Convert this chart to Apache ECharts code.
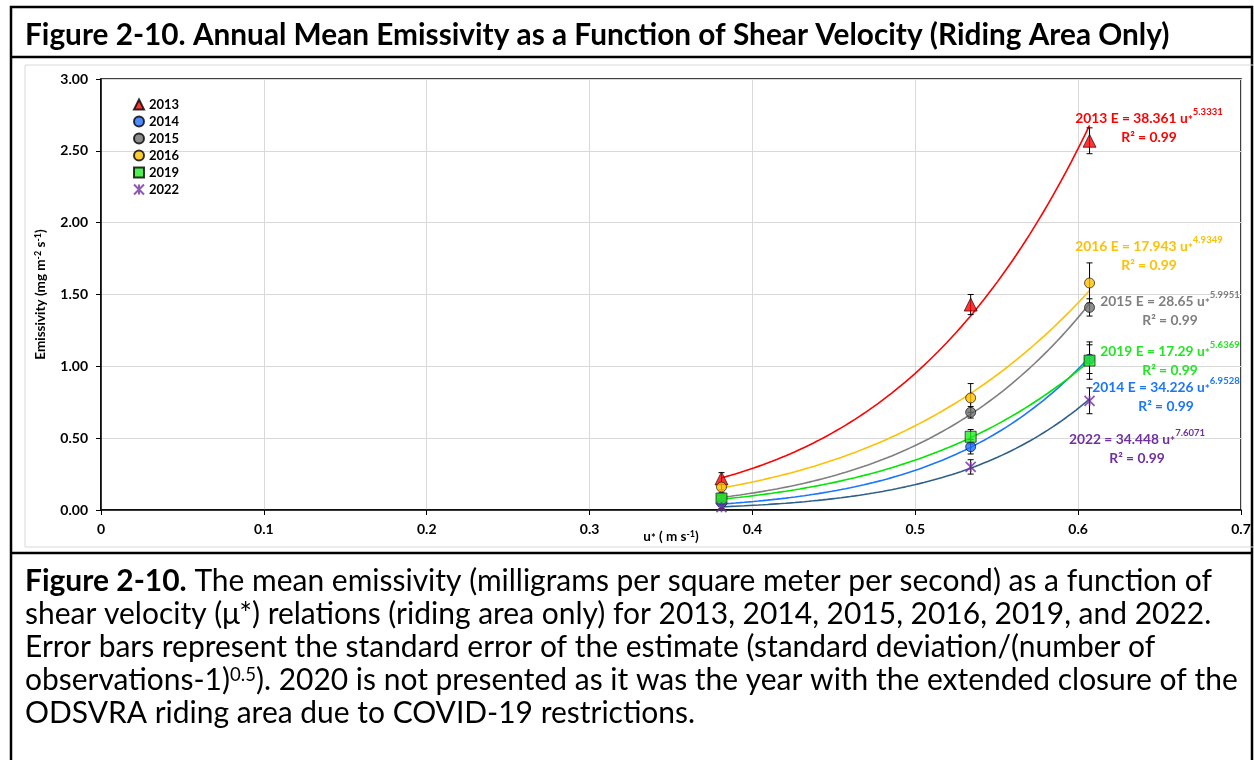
<!DOCTYPE html>
<html><head><meta charset="utf-8">
<script src="https://cdn.jsdelivr.net/npm/echarts@6/dist/echarts.min.js"></script>
<style>html,body{margin:0;padding:0;background:#fff}#c{width:1254px;height:760px}</style>
</head><body><div id="c"></div>
<script>
const FONT = 'Lato';
// ---- data ----
const xValues = [0.381, 0.534, 0.607];
const years = ['2013', '2014', '2015', '2016', '2019', '2022'];
const emis2013 = [0.22, 1.43, 2.57];
const emis2014 = [0.05, 0.44, 1.05];
const emis2015 = [0.09, 0.68, 1.41];
const emis2016 = [0.16, 0.78, 1.58];
const emis2019 = [0.08, 0.51, 1.04];
const emis2022 = [0.02, 0.30, 0.76];
const err2013 = [0.04, 0.07, 0.09];
const err2014 = [0.01, 0.05, 0.10];
const err2015 = [0.02, 0.04, 0.06];
const err2016 = [0.02, 0.10, 0.14];
const err2019 = [0.02, 0.05, 0.13];
const err2022 = [0.01, 0.05, 0.09];
// power-law fit coefficients shown on the chart: E = a * u^b
const fitA = [38.361, 34.226, 28.65, 17.943, 17.29, 34.448];
const fitB = [5.3331, 6.9528, 5.9951, 4.9349, 5.6369, 7.6071];
const fitR2 = ['0.99', '0.99', '0.99', '0.99', '0.99', '0.99'];
const yTicks = ['0.00', '0.50', '1.00', '1.50', '2.00', '2.50', '3.00'];
const xTicks = ['0', '0.1', '0.2', '0.3', '0.4', '0.5', '0.6', '0.7'];

const emis = [emis2013, emis2014, emis2015, emis2016, emis2019, emis2022];
const errs = [err2013, err2014, err2015, err2016, err2019, err2022];

// ---- styles ----
const markerColor = ['#ff0000', '#1f6fff', '#6f6f6f', '#ffc000', '#22ee22', '#7030a0'];
const lineColor = ['#ff0000', '#1a75ff', '#7f7f7f', '#ffc000', '#00e600', '#2e5f8a'];
const labelColor = ['#ff0000', '#1a75ff', '#7f7f7f', '#ffc000', '#22e622', '#7030a0'];
const symbols = ['triangle', 'circle', 'circle', 'circle', 'rect', 'path://M0,0L10,10M10,0L0,10M5,0L5,10'];
const symSizes = [13, 10, 10, 10, 11, 10];

function measure(text, font) {
  const c = document.createElement('canvas').getContext('2d');
  c.font = font;
  return c.measureText(text).width;
}
function fitSize(text, weight, target) {
  const w = measure(text, weight + ' 100px ' + FONT);
  return 100 * target / w;
}

const titleText = 'Figure 2-10. Annual Mean Emissivity as a Function of Shear Velocity (Riding Area Only)';
const titleSize = Math.min(32, fitSize(titleText, 'bold', 1145));
const capLines = [
  'Figure 2-10. The mean emissivity (milligrams per square meter per second) as a function of',
  'shear velocity (\u03bc*) relations (riding area only) for 2013, 2014, 2015, 2016, 2019, and 2022.',
  'Error bars represent the standard error of the estimate (standard deviation/(number of',
  'observations-1)0.5). 2020 is not presented as it was the year with the extended closure of the',
  'ODSVRA riding area due to COVID-19 restrictions.'
];
const capSize = Math.min(31, fitSize(capLines[1], 'normal', 1187));

const series = [];
years.forEach((y, i) => {
  const pts = [];
  const x0 = xValues[0], x1 = xValues[xValues.length - 1];
  for (let k = 0; k <= 80; k++) {
    const u = x0 + (x1 - x0) * k / 80;
    pts.push([u, fitA[i] * Math.pow(u, fitB[i])]);
  }
  series.push({
    name: y + ' fit', type: 'line', data: pts, showSymbol: false, silent: true,
    lineStyle: { color: lineColor[i], width: 1.6 }, z: 2, animation: false
  });
});
years.forEach((y, i) => {
  series.push({
    name: y + ' err', type: 'custom', z: 3, silent: true, animation: false,
    data: xValues.map((x, k) => [x, emis[i][k] - errs[i][k], emis[i][k] + errs[i][k]]),
    renderItem: (params, api) => {
      const x = api.value(0);
      const top = api.coord([x, api.value(2)]);
      const bot = api.coord([x, api.value(1)]);
      const st = { stroke: '#000', lineWidth: 1 };
      return { type: 'group', children: [
        { type: 'line', shape: { x1: top[0], y1: top[1], x2: bot[0], y2: bot[1] }, style: st },
        { type: 'line', shape: { x1: top[0] - 3, y1: top[1], x2: top[0] + 3, y2: top[1] }, style: st },
        { type: 'line', shape: { x1: bot[0] - 3, y1: bot[1], x2: bot[0] + 3, y2: bot[1] }, style: st }
      ] };
    }
  });
});
years.forEach((y, i) => {
  const star = i === 5;
  series.push({
    name: y, type: 'scatter', z: 5, animation: false,
    data: xValues.map((x, k) => [x, emis[i][k]]),
    symbol: symbols[i], symbolSize: symSizes[i],
    itemStyle: star ? { color: markerColor[i], borderColor: markerColor[i], borderWidth: 1.8 }
                    : { color: markerColor[i], borderColor: '#000', borderWidth: 0.8 }
  });
});

// annotation placement (pixel centers)
const annPos = [[1149, 126], [1166, 395], [1170, 309], [1149, 254], [1170, 359], [1137, 447]];
function annText(i) {
  const prefix = i === 5 ? '2022 = ' : years[i] + ' E = ';
  return '{b|' + prefix + fitA[i] + ' u}{s|*}{p|' + fitB[i] + '}\n{b|R\u00b2 = ' + fitR2[i] + '}';
}
const annElems = years.map((y, i) => ({
  type: 'text', x: annPos[i][0], y: annPos[i][1], z: 50,
  style: {
    text: annText(i), align: 'center', verticalAlign: 'middle',
    rich: {
      b: { fill: labelColor[i], fontSize: 13.8, fontWeight: 'bold', fontFamily: FONT, lineHeight: 19, verticalAlign: 'bottom' },
      s: { fill: labelColor[i], fontSize: 12, fontWeight: 'bold', fontFamily: FONT, verticalAlign: 'bottom' },
      p: { fill: labelColor[i], fontSize: 9.5, fontWeight: 'bold', fontFamily: FONT, verticalAlign: 'top' }
    }
  }
}));

const capRich = {
  r: { fill: '#000', fontSize: capSize, fontFamily: FONT },
  bb: { fill: '#000', fontSize: capSize, fontFamily: FONT, fontWeight: 'bold' },
  sp: { fill: '#000', fontSize: capSize * 0.62, fontFamily: FONT, verticalAlign: 'top', lineHeight: capSize * 0.62 }
};
const capTexts = [
  '{bb|Figure 2-10.}{r|' + capLines[0].slice(12) + '}',
  '{r|' + capLines[1] + '}',
  '{r|' + capLines[2] + '}',
  '{r|observations-1)}{sp|0.5}{r|). 2020 is not presented as it was the year with the extended closure of the}',
  '{r|' + capLines[4] + '}'
];
const capY = [581, 614, 647, 680, 713];
const capElems = capTexts.map((t, k) => ({
  type: 'text', x: 25, y: capY[k],
  style: { text: t, align: 'left', verticalAlign: 'middle', rich: capRich }
}));

const frameElems = [
  { type: 'rect', shape: { x: 11, y: 7, width: 1241, height: 760 }, style: { fill: 'none', stroke: '#000', lineWidth: 2.5 } },
  { type: 'line', shape: { x1: 11, y1: 57, x2: 1252, y2: 57 }, style: { stroke: '#000', lineWidth: 2.5 } },
  { type: 'rect', shape: { x: 25, y: 65, width: 1240, height: 482 }, style: { fill: 'none', stroke: '#d9d9d9', lineWidth: 1 } },
  { type: 'line', shape: { x1: 11, y1: 553, x2: 1252, y2: 553 }, style: { stroke: '#000', lineWidth: 2.5 } },
  { type: 'text', x: 25, y: 35, style: { text: titleText, fill: '#000', fontSize: titleSize, fontWeight: 'bold', fontFamily: FONT, align: 'left', verticalAlign: 'middle' } }
];

const chart = echarts.init(document.getElementById('c'));
chart.setOption({
  animation: false,
  backgroundColor: '#fff',
  textStyle: { fontFamily: FONT },
  grid: { left: 101, right: 13, top: 79, bottom: 250, show: true, borderColor: '#000', borderWidth: 1.5, containLabel: false },
  xAxis: {
    type: 'value', min: 0, max: 0.7, interval: 0.1,
    name: 'u{s|*} ( m s{p|-1})', nameLocation: 'middle', nameGap: 20, nameMoveOverlap: false,
    nameTextStyle: {
      color: '#000', fontSize: 13.5, fontWeight: 'bold', fontFamily: FONT,
      rich: { s: { fontSize: 11, fontWeight: 'bold', verticalAlign: 'bottom', color: '#000' },
              p: { fontSize: 9, fontWeight: 'bold', verticalAlign: 'top', color: '#000' } }
    },
    axisLine: { lineStyle: { color: '#000', width: 1.5 } },
    axisTick: { show: true, length: 5, lineStyle: { color: '#000' } },
    axisLabel: { color: '#000', fontSize: 14, fontWeight: 'bold', margin: 12,
      formatter: v => xTicks[Math.round(v * 10)] },
    splitLine: { show: true, lineStyle: { color: '#d9d9d9', width: 1 } }
  },
  yAxis: {
    type: 'value', min: 0, max: 3, interval: 0.5,
    name: 'Emissivity (mg m{p|-2} s{p|-1})', nameLocation: 'middle', nameGap: 53, nameRotate: 90, nameMoveOverlap: false,
    nameTextStyle: {
      color: '#000', fontSize: 13.5, fontWeight: 'bold', fontFamily: FONT,
      rich: { p: { fontSize: 9, fontWeight: 'bold', verticalAlign: 'top', color: '#000' } }
    },
    axisLine: { show: true, lineStyle: { color: '#000', width: 1.5 } },
    axisTick: { show: true, length: 5, lineStyle: { color: '#000' } },
    axisLabel: { color: '#000', fontSize: 14, fontWeight: 'bold', margin: 13,
      formatter: v => yTicks[Math.round(v * 2)] },
    splitLine: { show: true, lineStyle: { color: '#d9d9d9', width: 1 } }
  },
  legend: {
    data: years, orient: 'vertical', left: 128, top: 93, itemGap: 4,
    itemWidth: 10, itemHeight: 10,
    textStyle: { color: '#000', fontSize: 13, fontWeight: 'bold', fontFamily: FONT, lineHeight: 11 }
  },
  series: series,
  graphic: { elements: frameElems.concat(capElems).concat(annElems) }
});
</script>
</body></html>
